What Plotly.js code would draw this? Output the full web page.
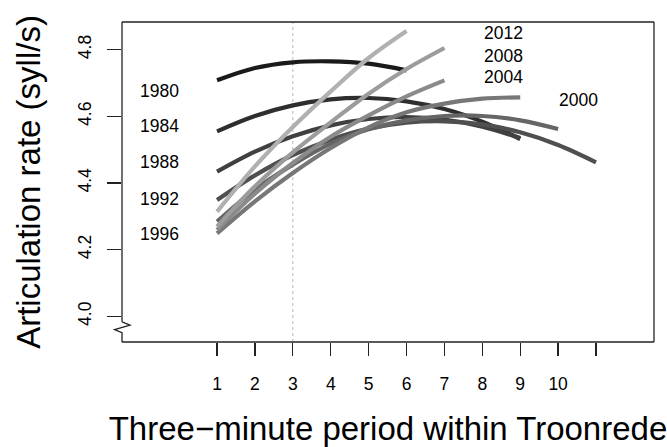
<!DOCTYPE html>
<html>
<head>
<meta charset="utf-8">
<script src="https://cdn.plot.ly/plotly-3.0.1.min.js"></script>
<style>html,body{margin:0;padding:0;background:#fff;}#chart{width:667px;height:447px;}</style>
</head>
<body>
<div id="chart"></div>
<script>
// ---- data ----
const years = ['1980','1984','1988','1992','1996','2000','2004','2008','2012'];
const rate1980 = [4.708, 4.745, 4.762, 4.765, 4.758, 4.738];
const rate1984 = [4.555, 4.601, 4.633, 4.651, 4.655, 4.645, 4.622, 4.584, 4.532];
const rate1988 = [4.434, 4.494, 4.540, 4.573, 4.592, 4.598, 4.590, 4.569, 4.535];
const rate1992 = [4.349, 4.423, 4.484, 4.530, 4.563, 4.581, 4.585, 4.576, 4.552, 4.514, 4.462];
const rate1996 = [4.284, 4.380, 4.455, 4.518, 4.561, 4.588, 4.601, 4.601, 4.588, 4.562];
const rate2000 = [4.249, 4.345, 4.430, 4.505, 4.567, 4.612, 4.638, 4.653, 4.657];
const rate2004 = [4.259, 4.368, 4.460, 4.539, 4.603, 4.660, 4.708];
const rate2008 = [4.269, 4.390, 4.492, 4.582, 4.668, 4.742, 4.805];
const rate2012 = [4.314, 4.450, 4.568, 4.675, 4.775, 4.856];
const rates = [rate1980, rate1984, rate1988, rate1992, rate1996, rate2000, rate2004, rate2008, rate2012];

const xTickVals = [1,2,3,4,5,6,7,8,9,10,11];
const xTickText = ['1','2','3','4','5','6','7','8','9','10',''];
const yTickVals = [4.0, 4.2, 4.4, 4.6, 4.8];
const yTickText = ['4.0','4.2','4.4','4.6','4.8'];

// year labels placed in the plot
const labelText = ['1980','1984','1988','1992','1996','2012','2008','2004','2000'];
const labelX    = [-0.53, -0.53, -0.53, -0.53, -0.53, 8.55, 8.55, 8.55, 10.55];
const labelY    = [4.676, 4.570, 4.462, 4.352, 4.247, 4.850, 4.782, 4.717, 4.648];

const refPeriod = 3;

// ---- styles ----
const greys = ['#1a1a1a','#2e2e2e','#404040','#4f4f4f','#666666','#777777','#8a8a8a','#9c9c9c','#b0b0b0'];
const FONT = 'Liberation Sans, Arial, Helvetica, sans-serif';

const traces = years.map((yr, i) => ({
  type: 'scatter', mode: 'lines', name: yr,
  x: rates[i].map((_, k) => k + 1),
  y: rates[i],
  line: {color: greys[i], width: 4.2, shape: 'spline', smoothing: 1.0},
  hoverinfo: 'x+y+name'
}));

const annotations = labelText.map((t, i) => ({
  x: labelX[i], y: labelY[i], xref: 'x', yref: 'y', text: t,
  showarrow: false, xanchor: 'center', yanchor: 'middle',
  font: {family: FONT, size: 17.5, color: '#000'}
}));

// plot-area frame with axis break on the left edge (paper coords)
const frame = {color: '#222', width: 1.3};
const shapes = [
  {type:'line', xref:'x', yref:'paper', x0:refPeriod, x1:refPeriod, y0:0, y1:1,
   line:{color:'#b8b8b8', width:1, dash:'dot'}, layer:'below'},
  {type:'line', xref:'paper', yref:'paper', x0:0, x1:1, y0:1, y1:1, line:frame},
  {type:'line', xref:'paper', yref:'paper', x0:1, x1:1, y0:0, y1:1, line:frame},
  {type:'line', xref:'paper', yref:'paper', x0:0, x1:1, y0:0, y1:0, line:frame},
  {type:'line', xref:'paper', yref:'paper', x0:0, x1:0, y0:0.063, y1:1, line:frame},
  {type:'path', xref:'paper', yref:'paper',
   path:'M 0 0.063 L 0.0150 0.053 L -0.0140 0.039 L 0 0.029 L 0 0', line:frame}
];

const layout = {
  width: 667, height: 447,
  margin: {l: 122, r: 13, t: 22, b: 105, pad: 0},
  paper_bgcolor: '#fff', plot_bgcolor: '#fff',
  showlegend: false,
  font: {family: FONT, color: '#000'},
  xaxis: {
    range: [-1.508, 12.53], showgrid: false, zeroline: false, showline: false,
    tickmode: 'array', tickvals: xTickVals, ticktext: xTickText,
    ticks: 'outside', ticklen: 13, tickwidth: 1.3, tickcolor: '#222',
    ticklabelstandoff: 13,
    tickfont: {family: FONT, size: 17.5, color: '#000'},
    title: {text: 'Three\u2212minute period within Troonrede', font: {family: FONT, size: 33, color: '#000'}, standoff: 29},
    automargin: false, fixedrange: true
  },
  yaxis: {
    range: [3.923, 4.883], showgrid: false, zeroline: false, showline: false,
    tickmode: 'array', tickvals: yTickVals, ticktext: yTickText,
    ticks: 'outside', ticklen: 14, tickwidth: 1.3, tickcolor: '#222',
    tickangle: -90, ticklabelstandoff: 9,
    tickfont: {family: FONT, size: 17.5, color: '#000'},
    title: {text: 'Articulation rate (syll/s)', font: {family: FONT, size: 33, color: '#000'}, standoff: 24},
    automargin: false, fixedrange: true
  },
  annotations: annotations,
  shapes: shapes
};

Plotly.newPlot('chart', traces, layout, {displayModeBar: false, staticPlot: true});
</script>
</body>
</html>
